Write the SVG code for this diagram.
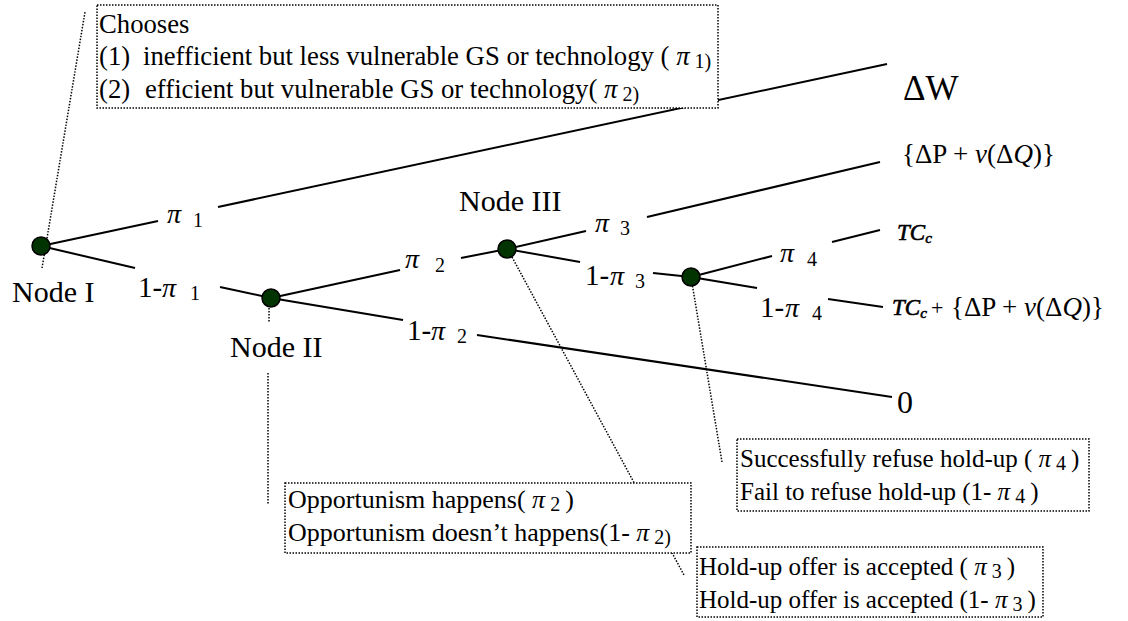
<svg xmlns="http://www.w3.org/2000/svg" width="1128" height="621" viewBox="0 0 1128 621" font-family="'Liberation Serif', 'Times New Roman', 'DejaVu Serif', serif">
<style>
.ln{stroke:#000;stroke-width:2;fill:none}
.dt{stroke:#000;stroke-width:1.5;stroke-dasharray:1.5 1.5;fill:none}
.box{fill:#fff;stroke:#000;stroke-width:1.5;stroke-dasharray:1.5 1.5}
.nd{fill:#013401;stroke:#000;stroke-width:1.5}
.t{font-size:26.7px}
.bt{font-size:25px}
.ot{font-size:26px}
.nl{font-size:30px}
.lb{font-size:29px}
.pi{font-style:italic;font-size:28px}
.sub{font-size:20px}
.m{font-size:27px}
.it{font-style:italic}
.tc{font-size:23px;font-style:italic;stroke:#000;stroke-width:0.6}
</style>
<rect width="1128" height="621" fill="#fff"/>
<g id="connectors">
<line class="ln" x1="41" y1="246" x2="158" y2="221"/>
<line class="ln" x1="218" y1="207" x2="887" y2="64"/>
<line class="ln" x1="41" y1="246" x2="135" y2="268"/>
<line class="ln" x1="220" y1="287" x2="271" y2="298"/>
<line class="ln" x1="271" y1="298" x2="400" y2="270"/>
<line class="ln" x1="461" y1="258" x2="507" y2="249"/>
<line class="ln" x1="271" y1="298" x2="403" y2="320"/>
<line class="ln" x1="477" y1="335" x2="892" y2="397"/>
<line class="ln" x1="507" y1="249" x2="586" y2="231"/>
<line class="ln" x1="647" y1="217" x2="880" y2="162"/>
<line class="ln" x1="507" y1="249" x2="580" y2="262"/>
<line class="ln" x1="653" y1="273" x2="691" y2="277"/>
<line class="ln" x1="691" y1="277" x2="772" y2="256"/>
<line class="ln" x1="832" y1="242" x2="880" y2="230"/>
<line class="ln" x1="691" y1="277" x2="757" y2="288"/>
<line class="ln" x1="828" y1="299" x2="883" y2="307"/>
<line class="dt" x1="42" y1="268" x2="85" y2="12"/>
<line class="dt" x1="269" y1="308" x2="269" y2="322"/>
<line class="dt" x1="268" y1="373" x2="268" y2="505"/>
<line class="dt" x1="512" y1="257" x2="684" y2="575"/>
<line class="dt" x1="692" y1="283" x2="722" y2="462"/>
</g>
<g id="labels">
<text class="lb" x="167" y="223"><tspan class="pi">π</tspan><tspan class="sub" x="193" y="227">1</tspan></text>
<text class="lb" x="138" y="297">1-<tspan class="pi" x="162">π</tspan><tspan class="sub" x="190" y="300">1</tspan></text>
<text class="lb" x="405" y="268"><tspan class="pi">π</tspan><tspan class="sub" x="435" y="272">2</tspan></text>
<text class="lb" x="407" y="340">1-<tspan class="pi" x="431">π</tspan><tspan class="sub" x="457" y="343">2</tspan></text>
<text class="lb" x="595" y="232"><tspan class="pi">π</tspan><tspan class="sub" x="620" y="235">3</tspan></text>
<text class="lb" x="585" y="285">1-<tspan class="pi" x="610">π</tspan><tspan class="sub" x="635" y="288">3</tspan></text>
<text class="lb" x="780" y="262"><tspan class="pi">π</tspan><tspan class="sub" x="807" y="266">4</tspan></text>
<text class="lb" x="760" y="317">1-<tspan class="pi" x="785">π</tspan><tspan class="sub" x="812" y="320">4</tspan></text>
</g>
<g id="nodeI">
<circle class="nd" cx="41" cy="246" r="9"/>
<text class="nl" x="12" y="302">Node I</text>
</g>
<g id="nodeII">
<circle class="nd" cx="271" cy="298" r="9"/>
<text class="nl" x="230" y="357">Node II</text>
</g>
<g id="nodeIII">
<circle class="nd" cx="507" cy="249" r="9"/>
<text class="nl" x="459" y="211">Node III</text>
</g>
<g id="nodeIV">
<circle class="nd" cx="691" cy="277" r="9"/>
</g>
<g id="outcomeW"><text x="903" y="100" font-size="35">ΔW</text></g>
<g id="outcomePQ"><text class="m" x="902" y="163">{ΔP + <tspan class="it">v</tspan>(Δ<tspan class="it">Q</tspan>)}</text></g>
<g id="outcomeTC"><text class="tc" x="897" y="240">TC<tspan font-size="15" dy="3">c</tspan></text></g>
<g id="outcomeTCPQ"><text class="tc" x="892" y="315">TC<tspan font-size="15" dy="3">c</tspan></text><text x="931" y="315" font-size="22">+</text><text class="m" x="951" y="316">{ΔP + <tspan class="it">v</tspan>(Δ<tspan class="it">Q</tspan>)}</text></g>
<g id="outcome0"><text x="897" y="413" font-size="32">0</text></g>
<g id="chooseBox">
<rect class="box" x="97" y="5" width="621" height="103"/>
<text class="t" x="99" y="33">Chooses</text>
<text class="t" x="99" y="65">(1)<tspan x="143">inefficient but less vulnerable GS or technology ( </tspan><tspan class="it">π</tspan><tspan class="sub" dy="3"> 1)</tspan></text>
<text class="t" x="99" y="98">(2)<tspan x="145">efficient but vulnerable GS or technology( </tspan><tspan class="it">π</tspan><tspan class="sub" dy="3"> 2)</tspan></text>
</g>
<g id="oppBox">
<rect class="box" x="285" y="483" width="406" height="70"/>
<text class="ot" x="288" y="508">Opportunism happens( <tspan class="it">π</tspan><tspan class="sub" dy="3"> 2 </tspan><tspan dy="-3">)</tspan></text>
<text class="ot" x="288" y="541">Opportunism doesn’t happens(1- <tspan class="it">π</tspan><tspan class="sub" dy="3"> 2)</tspan></text>
</g>
<g id="refuseBox">
<rect class="box" x="737" y="439" width="352" height="72"/>
<text class="bt" x="740" y="467">Successfully refuse hold-up ( <tspan class="it">π</tspan><tspan class="sub" dy="3"> 4 </tspan><tspan dy="-3">)</tspan></text>
<text class="bt" x="740" y="500">Fail to refuse hold-up (1- <tspan class="it">π</tspan><tspan class="sub" dy="3"> 4 </tspan><tspan dy="-3">)</tspan></text>
</g>
<g id="holdBox">
<rect class="box" x="697" y="547" width="346" height="70"/>
<text class="bt" x="699" y="575">Hold-up offer is accepted ( <tspan class="it">π</tspan><tspan class="sub" dy="3"> 3 </tspan><tspan dy="-3">)</tspan></text>
<text class="bt" x="699" y="608">Hold-up offer is accepted (1- <tspan class="it">π</tspan><tspan class="sub" dy="3"> 3 </tspan><tspan dy="-3">)</tspan></text>
</g>
</svg>
